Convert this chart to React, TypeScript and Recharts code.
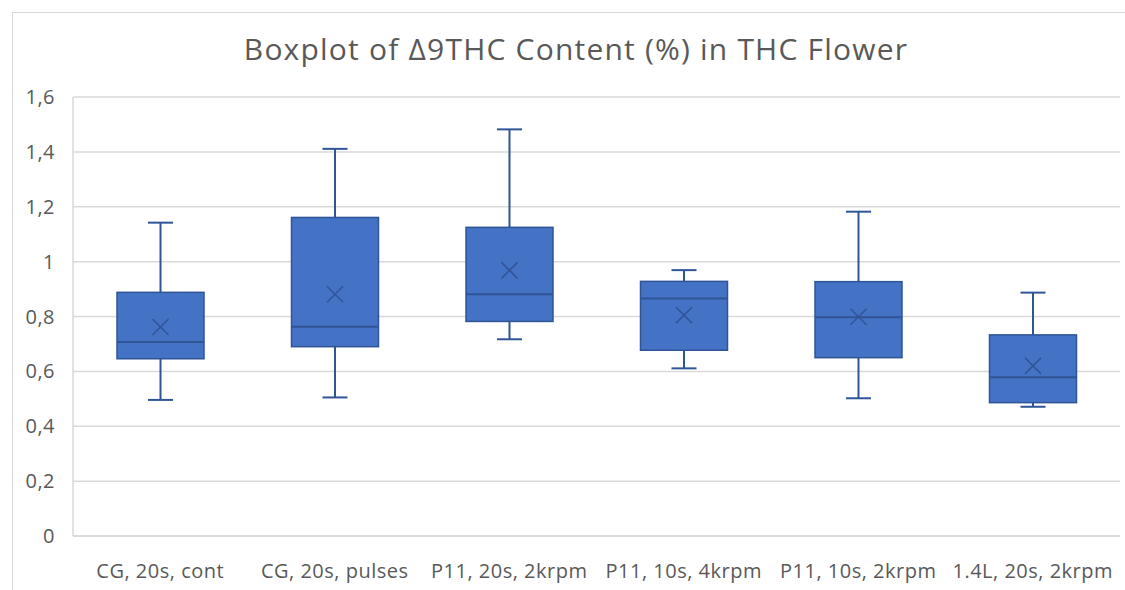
import { ComposedChart, Bar, XAxis, YAxis, CartesianGrid } from "recharts";

const categories = [
  "CG, 20s, cont",
  "CG, 20s, pulses",
  "P11, 20s, 2krpm",
  "P11, 10s, 4krpm",
  "P11, 10s, 2krpm",
  "1.4L, 20s, 2krpm",
];
const minValues = [0.496, 0.505, 0.717, 0.611, 0.502, 0.471];
const q1Values = [0.646, 0.69, 0.782, 0.677, 0.65, 0.486];
const medianValues = [0.707, 0.763, 0.881, 0.866, 0.797, 0.579];
const q3Values = [0.888, 1.161, 1.125, 0.928, 0.927, 0.733];
const maxValues = [1.142, 1.411, 1.482, 0.969, 1.182, 0.887];
const meanValues = [0.762, 0.881, 0.968, 0.805, 0.799, 0.62];
const yTicks = [0, 0.2, 0.4, 0.6, 0.8, 1, 1.2, 1.4, 1.6];

const data = categories.map((name, i) => ({
  name,
  range: [minValues[i], maxValues[i]],
  q1: q1Values[i],
  median: medianValues[i],
  q3: q3Values[i],
  mean: meanValues[i],
}));

const FILL = "#4472C4";
const DARK = "#2F5597";
const TEXT = "#595959";
const FONT = "'Open Sans', sans-serif";

const BoxShape = (props: any) => {
  const { x, y, width, height, payload } = props;
  const top = Math.min(y, y + height);
  const h = Math.abs(height);
  const [lo, hi] = payload.range;
  // map a value to pixels inside the bar's own range
  const py = (v: number) => top + (h * (hi - v)) / (hi - lo);
  const cx = x + width / 2;
  const cap = 12.5;
  const yQ3 = py(payload.q3);
  const yQ1 = py(payload.q1);
  const yMed = py(payload.median);
  const yMean = py(payload.mean);
  const s = 8;
  return (
    <g>
      <line x1={cx} x2={cx} y1={top} y2={yQ3} stroke={DARK} strokeWidth={2} />
      <line x1={cx} x2={cx} y1={yQ1} y2={top + h} stroke={DARK} strokeWidth={2} />
      <line x1={cx - cap} x2={cx + cap} y1={top} y2={top} stroke={DARK} strokeWidth={2} />
      <line x1={cx - cap} x2={cx + cap} y1={top + h} y2={top + h} stroke={DARK} strokeWidth={2} />
      <rect x={x} y={yQ3} width={width} height={yQ1 - yQ3} fill={FILL} stroke={DARK} strokeWidth={1.5} />
      <line x1={x} x2={x + width} y1={yMed} y2={yMed} stroke={DARK} strokeWidth={2} />
      <line x1={cx - s} x2={cx + s} y1={yMean - s} y2={yMean + s} stroke={DARK} strokeWidth={1.5} />
      <line x1={cx - s} x2={cx + s} y1={yMean + s} y2={yMean - s} stroke={DARK} strokeWidth={1.5} />
    </g>
  );
};

const fmt = (v: number) => String(Math.round(v * 10) / 10).replace(".", ",");

export default function App() {
  return (
    <div style={{ position: "relative", width: 1125, height: 590, overflow: "hidden", background: "#fff" }}>
      <style>{`body{margin:0;overflow:hidden}`}</style>
      <div
        style={{
          position: "absolute",
          left: 12,
          top: 12,
          width: 1113,
          height: 578,
          borderLeft: "1px solid #d9d9d9",
          borderTop: "1px solid #d9d9d9",
        }}
      >
        <div
          style={{
            position: "absolute",
            left: 0,
            top: 15,
            width: 1126,
            textAlign: "center",
            fontFamily: FONT,
            fontSize: 30,
            letterSpacing: 1.2,
            color: TEXT,
            lineHeight: "42px",
          }}
        >
          Boxplot of Δ9THC Content (%) in THC Flower
        </div>
        <ComposedChart
          width={1113}
          height={577}
          data={data}
          margin={{ top: 84, right: 6, bottom: 14, left: 10 }}
        >
          <CartesianGrid vertical={false} stroke="#d9d9d9" strokeWidth={1.5} />
          <XAxis
            dataKey="name"
            height={40}
            tickLine={false}
            axisLine={{ stroke: "#d9d9d9", strokeWidth: 1.5 }}
            tickMargin={22}
            tick={{ fill: TEXT, fontSize: 20, fontFamily: FONT, letterSpacing: 0.5 }}
            interval={0}
          />
          <YAxis
            width={50}
            domain={[0, 1.6]}
            ticks={yTicks}
            tickFormatter={fmt}
            tickLine={false}
            axisLine={{ stroke: "#d9d9d9", strokeWidth: 1.5 }}
            tickMargin={12}
            tick={{ fill: TEXT, fontSize: 20, fontFamily: FONT, letterSpacing: 0.5 }}
          />
          <Bar dataKey="range" barSize={87} shape={BoxShape} isAnimationActive={false} />
        </ComposedChart>
      </div>
    </div>
  );
}
